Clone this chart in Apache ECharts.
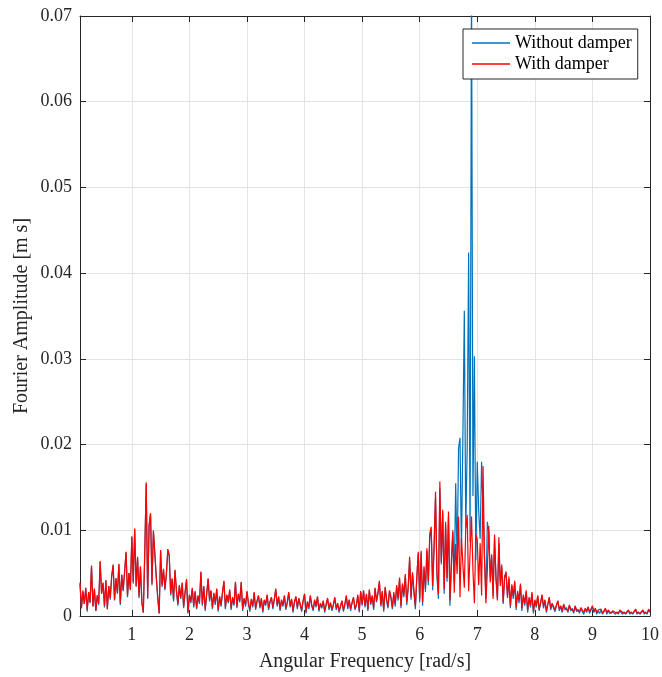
<!DOCTYPE html>
<html><head><meta charset="utf-8">
<script src="https://cdn.jsdelivr.net/npm/echarts@6/dist/echarts.min.js"></script>
<style>html,body{margin:0;padding:0;background:#fff}#c{width:662px;height:677px}</style>
</head><body><div id="c"></div><script>
const freqStart = 0.1, freqStep = 0.025;
const xTicks = [1,2,3,4,5,6,7,8,9,10];
const seriesNames = ['Without damper', 'With damper'];

const withoutDamper = [
0.0037,0.0009,0.0028,0.0014,0.0033,0.0005,0.0028,0.0015,0.0058,0.0011,0.0031,0.0006,0.0024,0.0013,0.0063,0.0026,0.0038,0.0010,
0.0041,0.0008,0.0035,0.0019,0.0046,0.0059,0.0018,0.0044,0.0026,0.0060,0.0013,0.0048,0.0029,0.0052,0.0074,0.0022,0.0050,0.0030,0.0092,0.0038,
0.0101,0.0034,0.0068,0.0021,0.0057,0.0015,0.0004,0.0074,0.0154,0.0020,0.0105,0.0119,0.0036,0.0099,0.0098,0.0044,0.0021,0.0003,0.0076,0.0034,
0.0054,0.0030,0.0048,0.0077,0.0070,0.0024,0.0043,0.0017,0.0053,0.0029,0.0012,0.0035,0.0020,0.0038,0.0009,0.0027,0.0042,0.0003,0.0024,0.0015,
0.0032,0.0010,0.0028,0.0008,0.0023,0.0014,0.0051,0.0012,0.0034,0.0006,0.0025,0.0043,0.0017,0.0029,0.0008,0.0026,0.0013,0.0031,0.0005,0.0022,
0.0011,0.0027,0.0040,0.0008,0.0024,0.0015,0.0030,0.0007,0.0021,0.0012,0.0039,0.0009,0.0025,0.0016,0.0039,0.0006,0.0020,0.0011,0.0028,0.0014,
0.0005,0.0019,0.0010,0.0027,0.0007,0.0017,0.0023,0.0009,0.0020,0.0004,0.0018,0.0012,0.0024,0.0007,0.0016,0.0021,0.0008,0.0019,0.0031,0.0011,
0.0022,0.0006,0.0018,0.0011,0.0023,0.0007,0.0015,0.0027,0.0010,0.0019,0.0004,0.0016,0.0022,0.0008,0.0020,0.0012,0.0005,0.0017,0.0025,0.0003,
0.0016,0.0008,0.0023,0.0011,0.0006,0.0018,0.0010,0.0022,0.0005,0.0014,0.0009,0.0017,0.0004,0.0013,0.0020,0.0007,0.0015,0.0006,0.0012,0.0021,
0.0007,0.0014,0.0004,0.0011,0.0017,0.0005,0.0013,0.0023,0.0008,0.0018,0.0006,0.0015,0.0021,0.0007,0.0012,0.0024,0.0004,0.0028,0.0012,0.0029,
0.0010,0.0025,0.0006,0.0030,0.0013,0.0023,0.0007,0.0032,0.0016,0.0026,0.0040,0.0011,0.0028,0.0005,0.0033,0.0018,0.0009,0.0029,0.0021,0.0008,
0.0025,0.0011,0.0034,0.0018,0.0043,0.0009,0.0036,0.0022,0.0047,0.0013,0.0032,0.0066,0.0019,0.0049,0.0027,0.0008,0.0044,0.0073,0.0016,0.0074,
0.0012,0.0055,0.0028,0.0076,0.0036,0.0092,0.0100,0.0030,0.0080,0.0138,0.0046,0.0020,0.0149,0.0060,0.0120,0.0026,0.0106,0.0040,0.0116,0.0012,
0.0055,0.0098,0.0039,0.0155,0.0062,0.0196,0.0208,0.0075,0.0209,0.0356,0.0102,0.0197,0.0424,0.0086,0.0750,0.0140,0.0303,0.0065,0.0180,0.0122,
0.0090,0.0180,0.0125,0.0070,0.0020,0.0110,0.0098,0.0045,0.0070,0.0024,0.0090,0.0046,0.0020,0.0085,0.0038,0.0056,0.0014,0.0047,0.0050,0.0023,
0.0043,0.0009,0.0035,0.0020,0.0039,0.0007,0.0027,0.0015,0.0036,0.0006,0.0023,0.0012,0.0028,0.0004,0.0020,0.0010,0.0026,0.0003,0.0017,0.0010,
0.0023,0.0006,0.0015,0.0024,0.0009,0.0018,0.0004,0.0013,0.0021,0.0007,0.0014,0.0009,0.0005,0.0012,0.0017,0.0006,0.0011,0.0004,0.0013,0.0007,
0.0010,0.0004,0.0012,0.0006,0.0009,0.0003,0.0011,0.0005,0.0008,0.0003,0.0009,0.0005,0.0002,0.0008,0.0004,0.0010,0.0003,0.0007,0.0011,0.0004,
0.0008,0.0002,0.0006,0.0003,0.0007,0.0002,0.0005,0.0008,0.0002,0.0006,0.0003,0.0002,0.0005,0.0007,0.0002,0.0005,0.0002,0.0006,0.0004,0.0002,
0.0005,0.0002,0.0004,0.0006,0.0002,0.0005,0.0002,0.0004,0.0007,0.0002,0.0005,0.0002,0.0004,0.0006,0.0002,0.0005,0.0002,0.0007,0.0004
];

const withDamper = [
0.0039,0.0009,0.0030,0.0014,0.0033,0.0007,0.0028,0.0016,0.0059,0.0011,0.0032,0.0006,0.0024,0.0015,0.0064,0.0026,0.0039,0.0012,
0.0042,0.0008,0.0035,0.0021,0.0046,0.0060,0.0019,0.0044,0.0027,0.0061,0.0015,0.0048,0.0030,0.0052,0.0075,0.0024,0.0050,0.0031,0.0093,0.0040,
0.0102,0.0035,0.0069,0.0023,0.0058,0.0016,0.0004,0.0075,0.0156,0.0021,0.0106,0.0120,0.0038,0.0100,0.0099,0.0046,0.0022,0.0003,0.0077,0.0036,
0.0055,0.0032,0.0049,0.0078,0.0071,0.0026,0.0044,0.0019,0.0054,0.0030,0.0014,0.0036,0.0022,0.0039,0.0011,0.0028,0.0043,0.0004,0.0025,0.0017,
0.0033,0.0012,0.0029,0.0009,0.0024,0.0016,0.0052,0.0014,0.0035,0.0008,0.0026,0.0044,0.0019,0.0030,0.0010,0.0027,0.0015,0.0032,0.0007,0.0023,
0.0013,0.0028,0.0041,0.0010,0.0025,0.0017,0.0031,0.0009,0.0022,0.0014,0.0040,0.0011,0.0026,0.0018,0.0040,0.0008,0.0021,0.0013,0.0029,0.0016,
0.0007,0.0020,0.0012,0.0028,0.0009,0.0018,0.0024,0.0011,0.0021,0.0006,0.0019,0.0014,0.0025,0.0009,0.0017,0.0022,0.0010,0.0020,0.0032,0.0013,
0.0023,0.0008,0.0019,0.0013,0.0024,0.0009,0.0016,0.0028,0.0012,0.0020,0.0006,0.0017,0.0023,0.0010,0.0021,0.0014,0.0007,0.0018,0.0026,0.0005,
0.0017,0.0010,0.0024,0.0013,0.0008,0.0019,0.0012,0.0023,0.0007,0.0015,0.0011,0.0018,0.0006,0.0014,0.0021,0.0009,0.0016,0.0008,0.0013,0.0022,
0.0009,0.0015,0.0006,0.0012,0.0018,0.0007,0.0014,0.0024,0.0010,0.0019,0.0008,0.0016,0.0022,0.0009,0.0013,0.0025,0.0006,0.0029,0.0014,0.0030,
0.0012,0.0026,0.0008,0.0031,0.0015,0.0024,0.0009,0.0033,0.0018,0.0027,0.0041,0.0013,0.0029,0.0007,0.0034,0.0020,0.0011,0.0030,0.0023,0.0010,
0.0028,0.0014,0.0036,0.0021,0.0045,0.0012,0.0038,0.0025,0.0049,0.0016,0.0034,0.0069,0.0022,0.0051,0.0030,0.0011,0.0046,0.0075,0.0020,0.0076,
0.0016,0.0058,0.0032,0.0079,0.0041,0.0096,0.0104,0.0035,0.0082,0.0145,0.0050,0.0026,0.0157,0.0063,0.0124,0.0031,0.0110,0.0044,0.0122,0.0018,
0.0065,0.0100,0.0027,0.0084,0.0049,0.0116,0.0022,0.0091,0.0060,0.0033,0.0102,0.0118,0.0029,0.0074,0.0116,0.0053,0.0015,0.0095,0.0089,0.0036,
0.0085,0.0024,0.0175,0.0068,0.0015,0.0054,0.0105,0.0039,0.0072,0.0020,0.0095,0.0043,0.0018,0.0092,0.0035,0.0060,0.0016,0.0044,0.0052,0.0021,
0.0046,0.0012,0.0037,0.0023,0.0041,0.0010,0.0029,0.0018,0.0038,0.0009,0.0025,0.0015,0.0030,0.0007,0.0022,0.0013,0.0028,0.0005,0.0019,0.0012,
0.0024,0.0008,0.0016,0.0025,0.0011,0.0019,0.0006,0.0014,0.0022,0.0009,0.0015,0.0011,0.0007,0.0013,0.0018,0.0008,0.0012,0.0006,0.0014,0.0009,
0.0011,0.0006,0.0013,0.0008,0.0010,0.0005,0.0012,0.0007,0.0009,0.0005,0.0010,0.0007,0.0004,0.0009,0.0006,0.0011,0.0005,0.0008,0.0012,0.0006,
0.0009,0.0004,0.0007,0.0005,0.0008,0.0003,0.0006,0.0009,0.0004,0.0007,0.0005,0.0003,0.0006,0.0008,0.0004,0.0006,0.0003,0.0007,0.0005,0.0004,
0.0006,0.0003,0.0005,0.0007,0.0004,0.0006,0.0003,0.0005,0.0008,0.0004,0.0006,0.0003,0.0005,0.0007,0.0004,0.0006,0.0003,0.0008,0.0005
];

const freq = withDamper.map((_, i) => +(freqStart + freqStep * i).toFixed(3));
const pairs = arr => arr.map((v, i) => [freq[i], v]);

const font = '"Liberation Serif","Times New Roman",serif';
const axisColor = '#262626';
const gridColor = '#e3e3e3';

const chart = echarts.init(document.getElementById('c'), null, {renderer: 'canvas'});
const baseX = {
  type: 'value', min: 0.1, max: 10,
  axisLine: {show: true, onZero: false, lineStyle: {color: axisColor, width: 1}},
  axisTick: {show: true, inside: true, length: 6, customValues: xTicks, lineStyle: {color: axisColor}},
};
const baseY = {
  type: 'value', min: 0, max: 0.07, interval: 0.01,
  axisLine: {show: true, onZero: false, lineStyle: {color: axisColor, width: 1}},
  axisTick: {show: true, inside: true, length: 6, lineStyle: {color: axisColor}},
};
chart.setOption({
  animation: false,
  backgroundColor: '#fff',
  textStyle: {fontFamily: font},
  grid: {left: 80, right: 11, top: 16, bottom: 61, containLabel: false},
  legend: {
    data: seriesNames, orient: 'vertical', left: 463, top: 29,
    backgroundColor: '#fff', borderColor: axisColor, borderWidth: 1, borderRadius: 0,
    padding: [5, 6, 6, 9], itemGap: 3, itemWidth: 38, itemHeight: 1.5, icon: 'rect',
    textStyle: {fontFamily: font, fontSize: 18, color: '#000', lineHeight: 18}
  },
  xAxis: [
    Object.assign({}, baseX, {
      position: 'bottom',
      name: 'Angular Frequency [rad/s]', nameLocation: 'middle', nameGap: 36, nameMoveOverlap: false,
      nameTextStyle: {fontFamily: font, fontSize: 20, color: axisColor},
      axisLabel: {customValues: xTicks, fontFamily: font, fontSize: 18, color: axisColor, margin: 10},
      splitLine: {show: true, lineStyle: {color: gridColor, width: 1}}
    }),
    Object.assign({}, baseX, {
      position: 'top', axisLabel: {show: false}, splitLine: {show: false}
    })
  ],
  yAxis: [
    Object.assign({}, baseY, {
      position: 'left',
      name: 'Fourier Amplitude [m s]', nameLocation: 'middle', nameGap: 48, nameMoveOverlap: false,
      nameTextStyle: {fontFamily: font, fontSize: 20, color: axisColor},
      axisLabel: {fontFamily: font, fontSize: 18, color: axisColor, margin: 8},
      splitLine: {show: true, lineStyle: {color: gridColor, width: 1}}
    }),
    Object.assign({}, baseY, {
      position: 'right', axisLabel: {show: false}, splitLine: {show: false}
    })
  ],
  series: [
    {name: seriesNames[0], type: 'line', data: pairs(withoutDamper), xAxisIndex: 0, yAxisIndex: 0,
     symbol: 'none', showSymbol: false, clip: true, color: '#0072BD', lineStyle: {width: 1.2, color: '#0072BD'}},
    {name: seriesNames[1], type: 'line', data: pairs(withDamper), xAxisIndex: 0, yAxisIndex: 0,
     symbol: 'none', showSymbol: false, clip: true, color: '#FF0000', lineStyle: {width: 1.2, color: '#FF0000'}}
  ]
});
</script></body></html>
